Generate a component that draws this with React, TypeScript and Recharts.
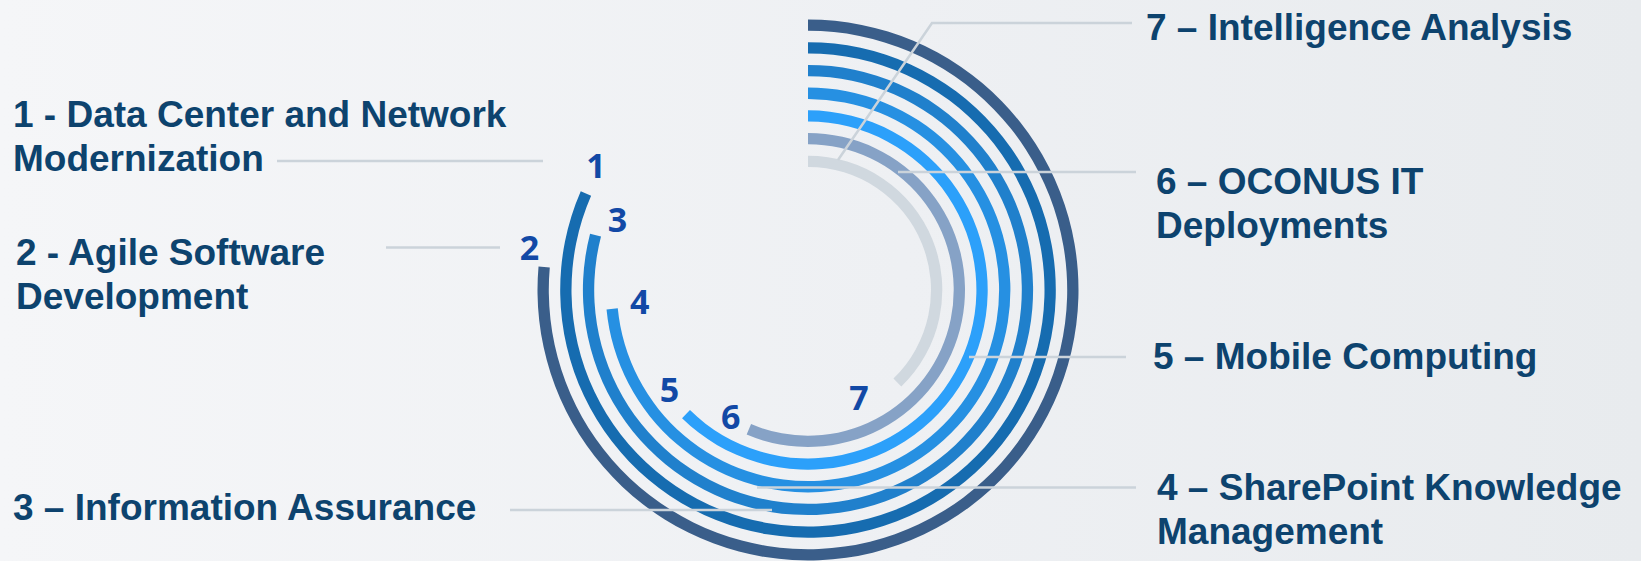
import React from 'react';
import {
  RadialBarChart, RadialBar, PolarAngleAxis, PolarRadiusAxis, Cell, LabelList,
} from 'recharts';

// Rings listed from the inside out; sweep = degrees clockwise from 12 o'clock
const RING_IDS = ['7', '6', '5', '4', '3', '1', '2'];
const RING_SWEEP = [136, 203, 224.5, 264.5, 284.5, 293.5, 275];

const TOPIC_IDS = ['1', '2', '3', '4', '5', '6', '7'];
const TOPIC_TEXT = [
  ['1 - Data Center and Network', 'Modernization'],
  ['2 - Agile Software', 'Development'],
  ['3 \u2013 Information Assurance'],
  ['4 \u2013 SharePoint Knowledge', 'Management'],
  ['5 \u2013 Mobile Computing'],
  ['6 \u2013 OCONUS IT', 'Deployments'],
  ['7 \u2013 Intelligence Analysis'],
];

// ── styling / layout (not data) ──
const W = 1641;
const H = 561;
const RING_COLORS = ['#d0d8df', '#86a2c6', '#2ca0fa', '#2690e2', '#2080cc', '#166cb0', '#3a5e8a'];
const TEXT_COLOR = '#0d436e';
const LEADER_COLOR = '#cbd3da';

// where each ring number sits relative to the end of its arc: extra degrees, radial shift
const NUMBER_NUDGE: Record<string, { da: number; dr: number }> = {
  '1': { da: 7, dr: 4 },
  '2': { da: 3.7, dr: 17 },
  '3': { da: 6, dr: -16 },
  '4': { da: 1.6, dr: -28 },
  '5': { da: 10, dr: -4 },
  '6': { da: 8.6, dr: -4 },
  '7': { da: 18.5, dr: -10 },
};

// callout text blocks and their leader lines
const CALLOUTS: Record<string, { x: number; y: number; leader: number[][] }> = {
  '1': { x: 13, y: 127, leader: [[277, 161], [543, 161]] },
  '2': { x: 16, y: 265, leader: [[386, 247.5], [500, 247.5]] },
  '3': { x: 13, y: 520, leader: [[510, 510], [772, 510]] },
  '4': { x: 1157, y: 500, leader: [[757, 487.5], [1136, 487.5]] },
  '5': { x: 1153, y: 369, leader: [[969, 357], [1126, 357]] },
  '6': { x: 1156, y: 193.5, leader: [[898, 172], [1136, 172]] },
  '7': { x: 1146, y: 39.5, leader: [[838, 160], [932, 23], [1132, 23]] },
};
const LINE_GAP = 44;

const rings = RING_IDS.map((id, i) => ({ id, sweep: RING_SWEEP[i] }));

const RingNumber = (props: any) => {
  const { viewBox, value } = props;
  if (!viewBox || viewBox.innerRadius == null) return null;
  const { cx, cy, innerRadius, outerRadius, endAngle } = viewBox;
  const n = NUMBER_NUDGE[String(value)] || { da: 6, dr: 0 };
  const r = (innerRadius + outerRadius) / 2 + n.dr;
  const a = ((endAngle - n.da) * Math.PI) / 180;
  return (
    <text
      x={cx + r * Math.cos(a)}
      y={cy - r * Math.sin(a)}
      textAnchor="middle"
      dominantBaseline="central"
      fill="#1249a6"
      style={{ fontFamily: '"Open Sans", sans-serif', fontWeight: 700, fontSize: 34 }}
    >
      {value}
    </text>
  );
};

export default function App() {
  return (
    <div
      style={{
        position: 'fixed', left: 0, top: 0, width: W, height: H, overflow: 'hidden',
        background: 'linear-gradient(90deg, #f5f6f8 0%, #eef0f3 55%, #e8ebee 100%)',
      }}
    >
      <RadialBarChart
        width={W}
        height={H}
        cx={808}
        cy={290}
        innerRadius={117}
        outerRadius={275.9}
        startAngle={90}
        endAngle={-270}
        barSize={11.3}
        data={rings}
        margin={{ top: 0, right: 0, bottom: 0, left: 0 }}
      >
        <PolarAngleAxis type="number" domain={[0, 360]} tick={false} axisLine={false} />
        <PolarRadiusAxis type="category" dataKey="id" tick={false} axisLine={false} tickLine={false} />
        <RadialBar dataKey="sweep" isAnimationActive={false}>
          {rings.map((r, i) => (
            <Cell key={r.id} fill={RING_COLORS[i]} />
          ))}
          <LabelList dataKey="id" content={<RingNumber />} />
        </RadialBar>
      </RadialBarChart>

      {/* callouts drawn over the rings */}
      <svg width={W} height={H} style={{ position: 'absolute', left: 0, top: 0, pointerEvents: 'none' }}>
        {TOPIC_IDS.map((id, i) => {
          const c = CALLOUTS[id];
          return (
            <g key={id}>
              <polyline
                points={c.leader.map(p => p.join(',')).join(' ')}
                fill="none"
                stroke={LEADER_COLOR}
                strokeWidth={2.5}
              />
              <text
                fill={TEXT_COLOR}
                style={{ fontFamily: '"Liberation Sans", Arial, sans-serif', fontWeight: 700, fontSize: 37 }}
              >
                {TOPIC_TEXT[i].map((line, j) => (
                  <tspan key={j} x={c.x} y={c.y + j * LINE_GAP}>{line}</tspan>
                ))}
              </text>
            </g>
          );
        })}
      </svg>
    </div>
  );
}
